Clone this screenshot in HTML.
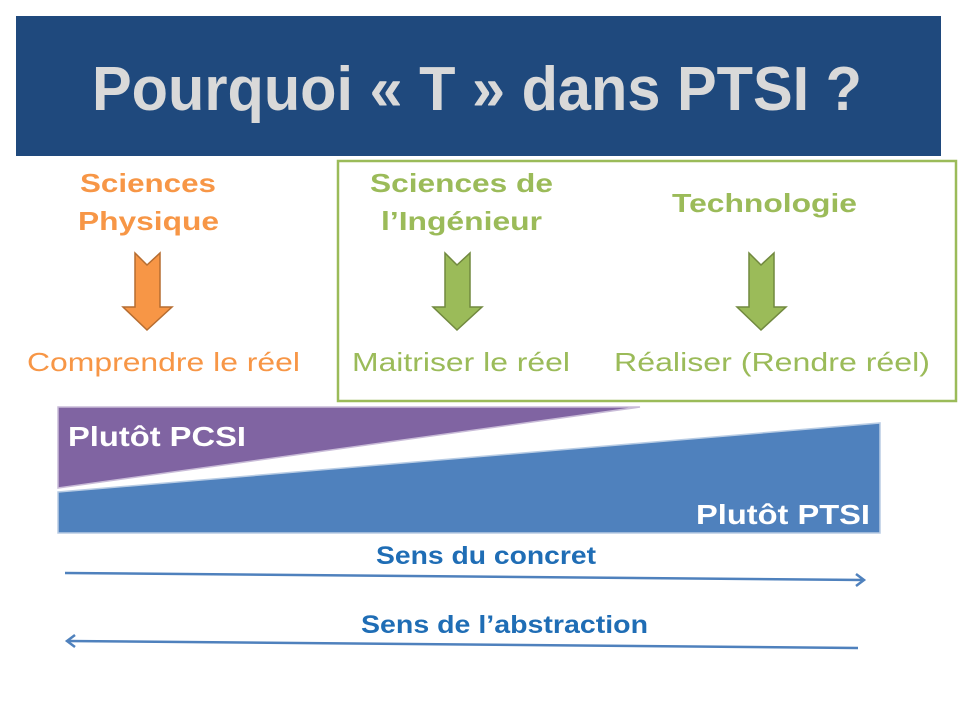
<!DOCTYPE html>
<html><head><meta charset="utf-8"><style>html,body{margin:0;padding:0;background:#fff;width:960px;height:720px;overflow:hidden}</style></head>
<body>
<svg width="960" height="720" viewBox="0 0 960 720" xmlns="http://www.w3.org/2000/svg" font-family="Liberation Sans, Arial, sans-serif">
<rect x="16" y="16" width="925" height="140" fill="#1f497d"/>
<text x="92" y="110" font-size="62" font-weight="bold" fill="#d9d9d9" textLength="770" lengthAdjust="spacingAndGlyphs">Pourquoi « T » dans PTSI ?</text>
<rect x="338" y="161" width="618" height="240" fill="none" stroke="#9bbb59" stroke-width="2.5"/>
<g font-weight="bold" font-size="26">
<text x="80" y="192" fill="#f79646" textLength="136" lengthAdjust="spacingAndGlyphs">Sciences</text>
<text x="78" y="230" fill="#f79646" textLength="141" lengthAdjust="spacingAndGlyphs">Physique</text>
<text x="370" y="192" fill="#9bbb59" textLength="183" lengthAdjust="spacingAndGlyphs">Sciences de</text>
<text x="381" y="230" fill="#9bbb59" textLength="161" lengthAdjust="spacingAndGlyphs">l’Ingénieur</text>
<text x="672" y="212" fill="#9bbb59" textLength="185" lengthAdjust="spacingAndGlyphs">Technologie</text>
</g>
<g stroke-width="1.5">
<path d="M123 253 L147 265 L172 253 L172 307 L160 307 L160 307 Z" fill="none" stroke="none"/>
<path d="M135 253 L147 265 L160 253 L160 307 L172 307 L147 330 L123 307 L135 307 Z" fill="#f79646" stroke="#b66d31"/>
<path d="M445 253 L457 265 L470 253 L470 307 L482 307 L457 330 L433 307 L445 307 Z" fill="#9bbb59" stroke="#71893f"/>
<path d="M749 253 L761 265 L774 253 L774 307 L786 307 L761 330 L737 307 L749 307 Z" fill="#9bbb59" stroke="#71893f"/>
</g>
<g font-size="26">
<text x="27" y="371" fill="#f79646" textLength="273" lengthAdjust="spacingAndGlyphs">Comprendre le réel</text>
<text x="352" y="371" fill="#9bbb59" textLength="218" lengthAdjust="spacingAndGlyphs">Maitriser le réel</text>
<text x="614" y="371" fill="#9bbb59" textLength="316" lengthAdjust="spacingAndGlyphs">Réaliser (Rendre réel)</text>
</g>
<polygon points="58,407 640,407 58,488" fill="#8064a2" stroke="#c9bcd8" stroke-width="1.5"/>
<polygon points="58,492 880,423 880,533 58,533" fill="#4f81bd" stroke="#b8cce4" stroke-width="1.5"/>
<g font-weight="bold" font-size="28" fill="#fff">
<text x="68" y="446" textLength="178" lengthAdjust="spacingAndGlyphs">Plutôt PCSI</text>
<text x="696" y="524" textLength="174" lengthAdjust="spacingAndGlyphs">Plutôt PTSI</text>
</g>
<g font-weight="bold" font-size="25" fill="#1f6db5">
<text x="376" y="564" textLength="220" lengthAdjust="spacingAndGlyphs">Sens du concret</text>
<text x="361" y="633" textLength="287" lengthAdjust="spacingAndGlyphs">Sens de l’abstraction</text>
</g>
<g stroke="#4f81bd" stroke-width="2.5" fill="none">
<line x1="65" y1="573" x2="864" y2="580"/>
<polyline points="856,574 864,580 856,586"/>
<line x1="858" y1="648" x2="67" y2="641"/>
<polyline points="75,635 67,641 75,647"/>
</g>
</svg>
</body></html>
